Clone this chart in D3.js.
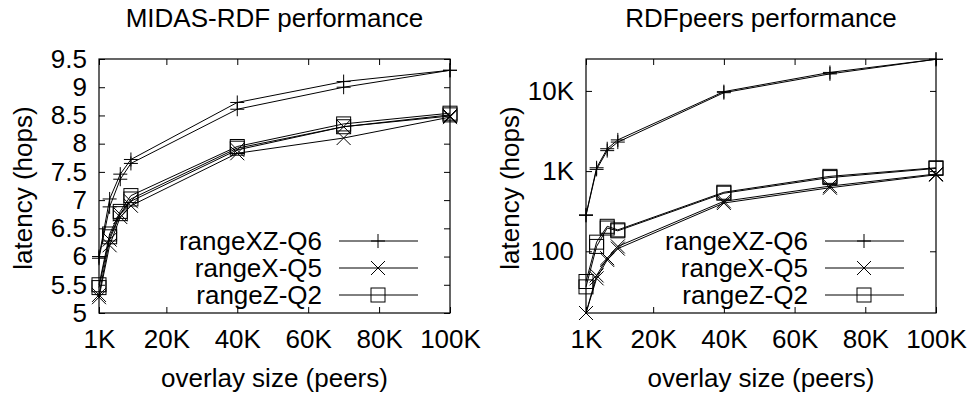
<!DOCTYPE html>
<html>
<head>
<meta charset="utf-8">
<script src="https://cdn.jsdelivr.net/npm/d3@7"></script>
<style>
  body { margin: 0; background: #fff; }
  text { font-family: "Liberation Sans", Arial, sans-serif; fill: #000; }
</style>
</head>
<body>
<svg width="969" height="396"></svg>
<script>
// overlay sizes (peers)
var sizes = [1000, 4000, 7000, 10000, 40000, 70000, 100000];
var seriesNames = ["rangeXZ-Q6", "rangeX-Q5", "rangeZ-Q2"];
var xTicks = [1000, 20000, 40000, 60000, 80000, 100000];

// MIDAS-RDF, two runs per query
var midasXZ1 = [6.00, 7.02, 7.46, 7.72, 8.73, 9.10, 9.30];
var midasXZ2 = [5.97, 6.88, 7.37, 7.65, 8.61, 9.00, 9.30];
var midasX1  = [5.32, 6.30, 6.75, 6.98, 7.89, 8.30, 8.49];
var midasX2  = [5.28, 6.20, 6.70, 6.90, 7.83, 8.10, 8.47];
var midasZ1  = [5.50, 6.40, 6.80, 7.08, 7.95, 8.35, 8.54];
var midasZ2  = [5.45, 6.35, 6.76, 7.02, 7.92, 8.30, 8.51];
var midasTicks = [5, 5.5, 6, 6.5, 7, 7.5, 8, 8.5, 9, 9.5];

// RDFpeers, two runs per query
var rdfXZ1 = [285, 1100, 1900, 2450, 9800, 17000, 24800];
var rdfXZ2 = [280, 1050, 1800, 2300, 9500, 16300, 24800];
var rdfX1  = [17, 50, 82, 115, 420, 650, 920];
var rdfX2  = [17, 46, 78, 108, 400, 620, 900];
var rdfZ1  = [42, 130, 205, 185, 545, 860, 1100];
var rdfZ2  = [36, 115, 195, 180, 530, 830, 1080];
var rdfTicks = [100, 1000, 10000];

var svg = d3.select("svg");
var plotTop = 59, plotBottom = 313;

function marker(g, kind, x, y) {
  var s = 7;
  if (kind == "plus") {
    g.append("path").attr("d", "M"+(x-s)+","+y+"H"+(x+s)+"M"+x+","+(y-s)+"V"+(y+s));
  } else if (kind == "cross") {
    g.append("path").attr("d", "M"+(x-s)+","+(y-s)+"L"+(x+s)+","+(y+s)+"M"+(x-s)+","+(y+s)+"L"+(x+s)+","+(y-s));
  } else {
    g.append("rect").attr("x", x-s).attr("y", y-s).attr("width", 2*s).attr("height", 2*s);
  }
}

function panel(left, right, title, ys, ticks, fmt, series) {
  var xs = d3.scaleLinear().domain([1000, 100000]).range([left, right]);
  var g = svg.append("g");

  // frame
  g.append("rect").attr("x", left).attr("y", plotTop)
    .attr("width", right-left).attr("height", plotBottom-plotTop)
    .attr("fill", "none").attr("stroke", "#000").attr("stroke-width", 1.2);

  var fmtX = function(d){ return (d/1000)+"K" };
  var ax = [
    g.append("g").attr("transform","translate(0,"+plotBottom+")")
      .call(d3.axisBottom(xs).tickValues(xTicks).tickFormat(fmtX).tickSizeInner(-6).tickSizeOuter(0).tickPadding(17)),
    g.append("g").attr("transform","translate(0,"+plotTop+")")
      .call(d3.axisTop(xs).tickValues(xTicks).tickFormat("").tickSizeInner(-6).tickSizeOuter(0)),
    g.append("g").attr("transform","translate("+left+",0)")
      .call(d3.axisLeft(ys).tickValues(ticks).tickFormat(fmt).tickSizeInner(-6).tickSizeOuter(0).tickPadding(12)),
    g.append("g").attr("transform","translate("+right+",0)")
      .call(d3.axisRight(ys).tickValues(ticks).tickFormat("").tickSizeInner(-6).tickSizeOuter(0))
  ];
  ax.forEach(function(a){
    a.select(".domain").remove();
    a.attr("font-size", 26).attr("font-family", null);
  });

  var cx = (left+right)/2;
  g.append("text").attr("x", cx).attr("y", 27).attr("text-anchor","middle")
    .attr("font-size", 26).text(title);
  g.append("text").attr("x", cx).attr("y", 387).attr("text-anchor","middle")
    .attr("font-size", 26).text("overlay size (peers)");
  g.append("text").attr("transform","translate("+(left-67)+",188) rotate(-90)")
    .attr("text-anchor","middle").attr("font-size", 26).text("latency (hops)");

  var line = d3.line().x(function(d){ return xs(d[0]) }).y(function(d){ return ys(d[1]) });
  series.forEach(function(s){
    s.runs.forEach(function(run){
      var pts = sizes.map(function(x,i){ return [x, run[i]] });
      g.append("path").attr("d", line(pts)).attr("fill","none")
        .attr("stroke","#000").attr("stroke-width",1);
      var mg = g.append("g").attr("fill","none").attr("stroke","#000").attr("stroke-width",1);
      pts.forEach(function(p){ marker(mg, s.kind, xs(p[0]), ys(p[1])) });
    });
  });

  // legend
  series.forEach(function(s, i){
    var y = 241 + i*27;
    g.append("text").attr("x", right-128).attr("y", y+9).attr("text-anchor","end")
      .attr("font-size", 26).text(s.name);
    g.append("line").attr("x1", right-111).attr("x2", right-32).attr("y1", y).attr("y2", y)
      .attr("stroke","#000").attr("stroke-width",1);
    var mg = g.append("g").attr("fill","none").attr("stroke","#000").attr("stroke-width",1);
    marker(mg, s.kind, right-72, y);
  });
}

panel(99, 450, "MIDAS-RDF performance",
  d3.scaleLinear().domain([5, 9.5]).range([plotBottom, plotTop]),
  midasTicks, function(d){ return String(d) },
  [{name: seriesNames[0], kind: "plus", runs: [midasXZ1, midasXZ2]},
   {name: seriesNames[1], kind: "cross", runs: [midasX1, midasX2]},
   {name: seriesNames[2], kind: "square", runs: [midasZ1, midasZ2]}]);

panel(586, 936, "RDFpeers performance",
  d3.scaleLog().domain([17, 25000]).range([plotBottom, plotTop]),
  rdfTicks, function(d){ return d >= 1000 ? (d/1000)+"K" : String(d) },
  [{name: seriesNames[0], kind: "plus", runs: [rdfXZ1, rdfXZ2]},
   {name: seriesNames[1], kind: "cross", runs: [rdfX1, rdfX2]},
   {name: seriesNames[2], kind: "square", runs: [rdfZ1, rdfZ2]}]);
</script>
</body>
</html>
